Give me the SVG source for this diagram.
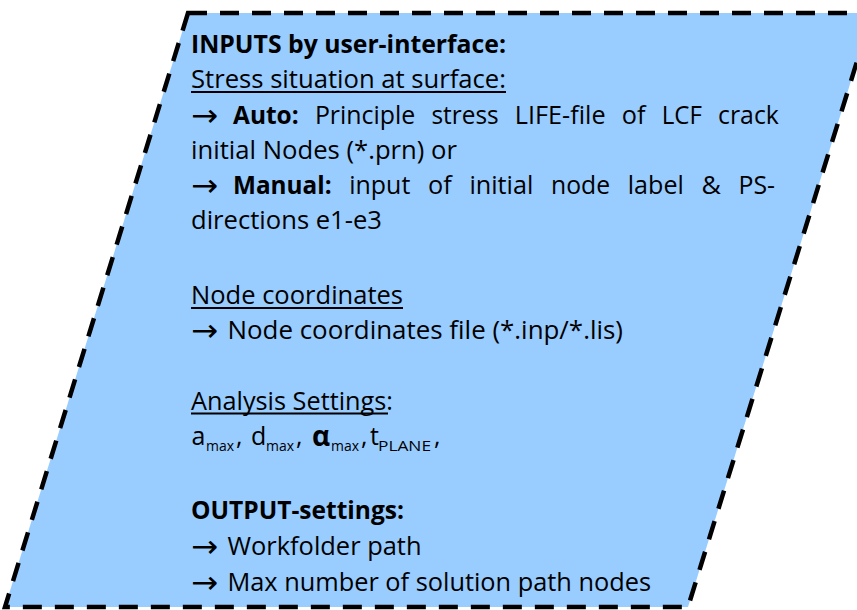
<svg xmlns="http://www.w3.org/2000/svg" width="857" height="610" viewBox="0 0 857 610">
<style>
text{font-family:"Open Sans","Noto Sans","Liberation Sans",sans-serif;font-size:25px;fill:#000}
.b{font-weight:bold}
.ar{font-family:"DejaVu Sans",sans-serif;font-size:31px}
.sub{font-size:15px}
.ul{stroke:#000;stroke-width:1.8}
</style>
<g id="input-shape">
<polygon points="188,13 872,13 688,607 5,607" fill="#99CCFF" stroke="#000" stroke-width="4.5" stroke-dasharray="19,13"/>
</g>
<g id="connectors"/>
<g id="text-block">
<text class="b" x="191" y="52.5" textLength="315" lengthAdjust="spacingAndGlyphs">INPUTS by user-interface:</text>
<text x="191" y="88" textLength="315" lengthAdjust="spacingAndGlyphs">Stress situation at surface:</text>
<line class="ul" x1="191" y1="92" x2="506" y2="92"/>
<text class="ar" x="191" y="125.5" textLength="27" lengthAdjust="spacingAndGlyphs">→</text>
<text y="123.5"><tspan class="b" x="233" textLength="65.7" lengthAdjust="spacingAndGlyphs">Auto:</tspan><tspan x="314.9" textLength="100.4" lengthAdjust="spacingAndGlyphs">Principle</tspan><tspan x="431.5" textLength="67.1" lengthAdjust="spacingAndGlyphs">stress</tspan><tspan x="514.8" textLength="90.8" lengthAdjust="spacingAndGlyphs">LIFE-file</tspan><tspan x="621.8" textLength="23.7" lengthAdjust="spacingAndGlyphs">of</tspan><tspan x="661.7" textLength="40.2" lengthAdjust="spacingAndGlyphs">LCF</tspan><tspan x="718.1" textLength="60.7" lengthAdjust="spacingAndGlyphs">crack</tspan></text>
<text x="191" y="158.5" textLength="266" lengthAdjust="spacingAndGlyphs">initial Nodes (*.prn) or</text>
<text class="ar" x="191" y="195.5" textLength="27" lengthAdjust="spacingAndGlyphs">→</text>
<text y="193.5"><tspan class="b" x="233" textLength="98.6" lengthAdjust="spacingAndGlyphs">Manual:</tspan><tspan x="349.3" textLength="61" lengthAdjust="spacingAndGlyphs">input</tspan><tspan x="428" textLength="23.7" lengthAdjust="spacingAndGlyphs">of</tspan><tspan x="469.4" textLength="64" lengthAdjust="spacingAndGlyphs">initial</tspan><tspan x="551.1" textLength="59" lengthAdjust="spacingAndGlyphs">node</tspan><tspan x="627.8" textLength="56" lengthAdjust="spacingAndGlyphs">label</tspan><tspan x="701.5" textLength="19.4" lengthAdjust="spacingAndGlyphs">&amp;</tspan><tspan x="738.6" textLength="36.5" lengthAdjust="spacingAndGlyphs">PS-</tspan></text>
<text x="191" y="229" textLength="191" lengthAdjust="spacingAndGlyphs">directions e1-e3</text>
<text x="191" y="303.5" textLength="212" lengthAdjust="spacingAndGlyphs">Node coordinates</text>
<line class="ul" x1="191" y1="308" x2="403" y2="308"/>
<text class="ar" x="191" y="340.5" textLength="27" lengthAdjust="spacingAndGlyphs">→</text>
<text x="227.5" y="338.5" textLength="395.5" lengthAdjust="spacingAndGlyphs">Node coordinates file (*.inp/*.lis)</text>
<text x="191" y="409.5" textLength="202" lengthAdjust="spacingAndGlyphs">Analysis Settings:</text>
<line class="ul" x1="191" y1="413.5" x2="388" y2="413.5"/>
<text y="445"><tspan x="191.5">a</tspan><tspan class="sub" x="206" y="451" textLength="28" lengthAdjust="spacingAndGlyphs">max</tspan><tspan x="236" y="445">,</tspan><tspan x="251">d</tspan><tspan class="sub" x="266" y="451" textLength="28" lengthAdjust="spacingAndGlyphs">max</tspan><tspan x="296" y="445">,</tspan><tspan class="b" x="312" y="446" font-size="28">α</tspan><tspan class="sub" x="331" y="451" textLength="28" lengthAdjust="spacingAndGlyphs">max</tspan><tspan x="361" y="445">,</tspan><tspan x="370">t</tspan><tspan class="sub" x="378" y="451" textLength="53" lengthAdjust="spacingAndGlyphs">PLANE</tspan><tspan x="434" y="445">,</tspan></text>
<text class="b" x="191" y="518.5" textLength="213" lengthAdjust="spacingAndGlyphs">OUTPUT-settings:</text>
<text class="ar" x="191" y="557" textLength="27" lengthAdjust="spacingAndGlyphs">→</text>
<text x="227.5" y="555" textLength="194" lengthAdjust="spacingAndGlyphs">Workfolder path</text>
<text class="ar" x="191" y="593" textLength="27" lengthAdjust="spacingAndGlyphs">→</text>
<text x="227.5" y="591" textLength="423.5" lengthAdjust="spacingAndGlyphs">Max number of solution path nodes</text>
</g>
</svg>
